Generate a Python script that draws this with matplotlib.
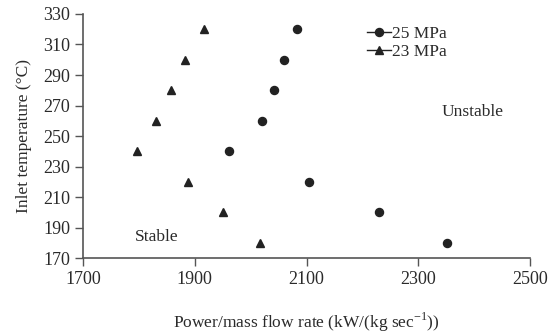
import matplotlib
matplotlib.use('Agg')
import matplotlib.pyplot as plt

plt.rcParams['font.family'] = ['Liberation Serif', 'DejaVu Serif']
plt.rcParams['mathtext.fontset'] = 'custom'
plt.rcParams['mathtext.rm'] = 'Liberation Serif'

# 25 MPa (circles)
x_25 = [2083, 2060, 2042, 2021, 1961, 2104, 2230, 2351]
y_25 = [320, 300, 280, 260, 240, 220, 200, 180]
# 23 MPa (triangles)
x_23 = [1917, 1882, 1857, 1831, 1797, 1887, 1951, 2016]
y_23 = [320, 300, 280, 260, 240, 220, 200, 180]

xticks = [1700, 1900, 2100, 2300, 2500]
yticks = [170, 190, 210, 230, 250, 270, 290, 310, 330]

fs = 13
txt = '#2a2a2a'

fig = plt.figure(figsize=(5.57, 3.33), dpi=100)
ax = fig.add_axes([0.149, 0.225, 0.803, 0.733])

mk = '#222222'
ax.plot(x_25, y_25, 'o', color=mk, markersize=5.8, label='25 MPa')
ax.plot(x_23, y_23, '^', color=mk, markersize=6, label='23 MPa')

ax.set_xlim(1700, 2500)
ax.set_ylim(170, 330)
ax.set_xticks(xticks)
ax.set_yticks(yticks)

for s in ['top', 'right']:
    ax.spines[s].set_visible(False)
for s in ['left', 'bottom']:
    ax.spines[s].set_color('#555555')
    ax.spines[s].set_linewidth(1.2)
ax.tick_params(colors='#555555', labelcolor=txt, labelsize=fs,
               length=6, width=1.0, pad=3)

ax.set_xlabel('Power/mass flow rate (kW/(kg sec$^{\\mathregular{-1}}$))',
              fontsize=fs - 0.5, color=txt, labelpad=17)
ax.set_ylabel('Inlet temperature (°C)', fontsize=fs - 0.5, color=txt, labelpad=8)

ax.text(2397, 266, 'Unstable', fontsize=fs - 0.5, ha='center', va='center', color=txt)
ax.text(1832, 184, 'Stable', fontsize=fs - 0.5, ha='center', va='center', color=txt)

leg = ax.legend(loc='upper left', bbox_to_anchor=(0.627, 0.965), frameon=False,
                fontsize=fs - 0.5, handlelength=1.4, handletextpad=0.05,
                labelspacing=0.1, borderpad=0.2, borderaxespad=0)
for h in leg.legend_handles:
    h.set_linestyle('-')
    h.set_linewidth(1.0)
for t in leg.get_texts():
    t.set_color(txt)

fig.savefig('out.png', dpi=100)
